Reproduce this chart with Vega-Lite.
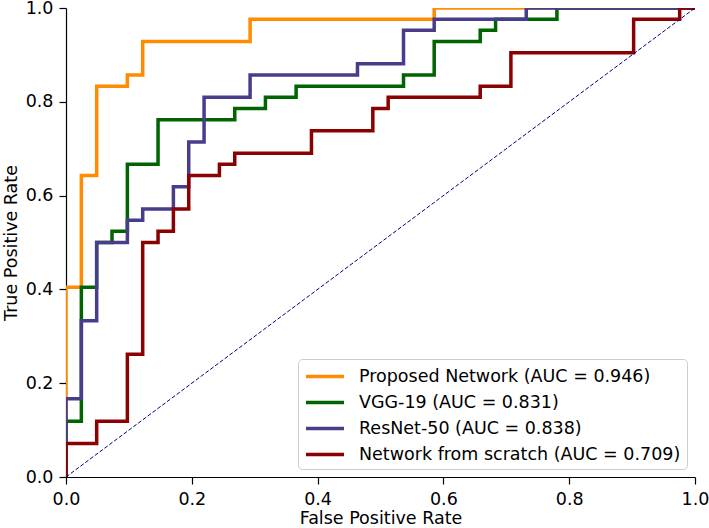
{
  "$schema": "https://vega.github.io/schema/vega-lite/v6.json",
  "autosize": {"type": "none"},
  "width": 629,
  "height": 469,
  "padding": {"left": 66, "top": 8, "right": 14, "bottom": 51},
  "background": "white",
  "datasets": {
    "roc": [
      {"model": "Proposed Network (AUC = 0.946)", "ord": 1, "fpr": 0, "tpr": 0},
      {"model": "Proposed Network (AUC = 0.946)", "ord": 2, "fpr": 0, "tpr": 0.40476},
      {"model": "Proposed Network (AUC = 0.946)", "ord": 3, "fpr": 0.02439, "tpr": 0.40476},
      {"model": "Proposed Network (AUC = 0.946)", "ord": 4, "fpr": 0.02439, "tpr": 0.64286},
      {"model": "Proposed Network (AUC = 0.946)", "ord": 5, "fpr": 0.04878, "tpr": 0.64286},
      {"model": "Proposed Network (AUC = 0.946)", "ord": 6, "fpr": 0.04878, "tpr": 0.83333},
      {"model": "Proposed Network (AUC = 0.946)", "ord": 7, "fpr": 0.09756, "tpr": 0.83333},
      {"model": "Proposed Network (AUC = 0.946)", "ord": 8, "fpr": 0.09756, "tpr": 0.85714},
      {"model": "Proposed Network (AUC = 0.946)", "ord": 9, "fpr": 0.12195, "tpr": 0.85714},
      {"model": "Proposed Network (AUC = 0.946)", "ord": 10, "fpr": 0.12195, "tpr": 0.92857},
      {"model": "Proposed Network (AUC = 0.946)", "ord": 11, "fpr": 0.29268, "tpr": 0.92857},
      {"model": "Proposed Network (AUC = 0.946)", "ord": 12, "fpr": 0.29268, "tpr": 0.97619},
      {"model": "Proposed Network (AUC = 0.946)", "ord": 13, "fpr": 0.58537, "tpr": 0.97619},
      {"model": "Proposed Network (AUC = 0.946)", "ord": 14, "fpr": 0.58537, "tpr": 1},
      {"model": "Proposed Network (AUC = 0.946)", "ord": 15, "fpr": 1, "tpr": 1},

      {"model": "VGG-19 (AUC = 0.831)", "ord": 1, "fpr": 0, "tpr": 0},
      {"model": "VGG-19 (AUC = 0.831)", "ord": 2, "fpr": 0, "tpr": 0.11905},
      {"model": "VGG-19 (AUC = 0.831)", "ord": 3, "fpr": 0.02439, "tpr": 0.11905},
      {"model": "VGG-19 (AUC = 0.831)", "ord": 4, "fpr": 0.02439, "tpr": 0.40476},
      {"model": "VGG-19 (AUC = 0.831)", "ord": 5, "fpr": 0.04878, "tpr": 0.40476},
      {"model": "VGG-19 (AUC = 0.831)", "ord": 6, "fpr": 0.04878, "tpr": 0.5},
      {"model": "VGG-19 (AUC = 0.831)", "ord": 7, "fpr": 0.07317, "tpr": 0.5},
      {"model": "VGG-19 (AUC = 0.831)", "ord": 8, "fpr": 0.07317, "tpr": 0.52381},
      {"model": "VGG-19 (AUC = 0.831)", "ord": 9, "fpr": 0.09756, "tpr": 0.52381},
      {"model": "VGG-19 (AUC = 0.831)", "ord": 10, "fpr": 0.09756, "tpr": 0.66667},
      {"model": "VGG-19 (AUC = 0.831)", "ord": 11, "fpr": 0.14634, "tpr": 0.66667},
      {"model": "VGG-19 (AUC = 0.831)", "ord": 12, "fpr": 0.14634, "tpr": 0.7619},
      {"model": "VGG-19 (AUC = 0.831)", "ord": 13, "fpr": 0.26829, "tpr": 0.7619},
      {"model": "VGG-19 (AUC = 0.831)", "ord": 14, "fpr": 0.26829, "tpr": 0.78571},
      {"model": "VGG-19 (AUC = 0.831)", "ord": 15, "fpr": 0.31707, "tpr": 0.78571},
      {"model": "VGG-19 (AUC = 0.831)", "ord": 16, "fpr": 0.31707, "tpr": 0.80952},
      {"model": "VGG-19 (AUC = 0.831)", "ord": 17, "fpr": 0.36585, "tpr": 0.80952},
      {"model": "VGG-19 (AUC = 0.831)", "ord": 18, "fpr": 0.36585, "tpr": 0.83333},
      {"model": "VGG-19 (AUC = 0.831)", "ord": 19, "fpr": 0.53659, "tpr": 0.83333},
      {"model": "VGG-19 (AUC = 0.831)", "ord": 20, "fpr": 0.53659, "tpr": 0.85714},
      {"model": "VGG-19 (AUC = 0.831)", "ord": 21, "fpr": 0.58537, "tpr": 0.85714},
      {"model": "VGG-19 (AUC = 0.831)", "ord": 22, "fpr": 0.58537, "tpr": 0.92857},
      {"model": "VGG-19 (AUC = 0.831)", "ord": 23, "fpr": 0.65854, "tpr": 0.92857},
      {"model": "VGG-19 (AUC = 0.831)", "ord": 24, "fpr": 0.65854, "tpr": 0.95238},
      {"model": "VGG-19 (AUC = 0.831)", "ord": 25, "fpr": 0.68293, "tpr": 0.95238},
      {"model": "VGG-19 (AUC = 0.831)", "ord": 26, "fpr": 0.68293, "tpr": 0.97619},
      {"model": "VGG-19 (AUC = 0.831)", "ord": 27, "fpr": 0.78049, "tpr": 0.97619},
      {"model": "VGG-19 (AUC = 0.831)", "ord": 28, "fpr": 0.78049, "tpr": 1},
      {"model": "VGG-19 (AUC = 0.831)", "ord": 29, "fpr": 1, "tpr": 1},

      {"model": "ResNet-50 (AUC = 0.838)", "ord": 1, "fpr": 0, "tpr": 0},
      {"model": "ResNet-50 (AUC = 0.838)", "ord": 2, "fpr": 0, "tpr": 0.16667},
      {"model": "ResNet-50 (AUC = 0.838)", "ord": 3, "fpr": 0.02439, "tpr": 0.16667},
      {"model": "ResNet-50 (AUC = 0.838)", "ord": 4, "fpr": 0.02439, "tpr": 0.33333},
      {"model": "ResNet-50 (AUC = 0.838)", "ord": 5, "fpr": 0.04878, "tpr": 0.33333},
      {"model": "ResNet-50 (AUC = 0.838)", "ord": 6, "fpr": 0.04878, "tpr": 0.5},
      {"model": "ResNet-50 (AUC = 0.838)", "ord": 7, "fpr": 0.09756, "tpr": 0.5},
      {"model": "ResNet-50 (AUC = 0.838)", "ord": 8, "fpr": 0.09756, "tpr": 0.54762},
      {"model": "ResNet-50 (AUC = 0.838)", "ord": 9, "fpr": 0.12195, "tpr": 0.54762},
      {"model": "ResNet-50 (AUC = 0.838)", "ord": 10, "fpr": 0.12195, "tpr": 0.57143},
      {"model": "ResNet-50 (AUC = 0.838)", "ord": 11, "fpr": 0.17073, "tpr": 0.57143},
      {"model": "ResNet-50 (AUC = 0.838)", "ord": 12, "fpr": 0.17073, "tpr": 0.61905},
      {"model": "ResNet-50 (AUC = 0.838)", "ord": 13, "fpr": 0.19512, "tpr": 0.61905},
      {"model": "ResNet-50 (AUC = 0.838)", "ord": 14, "fpr": 0.19512, "tpr": 0.71429},
      {"model": "ResNet-50 (AUC = 0.838)", "ord": 15, "fpr": 0.21951, "tpr": 0.71429},
      {"model": "ResNet-50 (AUC = 0.838)", "ord": 16, "fpr": 0.21951, "tpr": 0.80952},
      {"model": "ResNet-50 (AUC = 0.838)", "ord": 17, "fpr": 0.29268, "tpr": 0.80952},
      {"model": "ResNet-50 (AUC = 0.838)", "ord": 18, "fpr": 0.29268, "tpr": 0.85714},
      {"model": "ResNet-50 (AUC = 0.838)", "ord": 19, "fpr": 0.46341, "tpr": 0.85714},
      {"model": "ResNet-50 (AUC = 0.838)", "ord": 20, "fpr": 0.46341, "tpr": 0.88095},
      {"model": "ResNet-50 (AUC = 0.838)", "ord": 21, "fpr": 0.53659, "tpr": 0.88095},
      {"model": "ResNet-50 (AUC = 0.838)", "ord": 22, "fpr": 0.53659, "tpr": 0.95238},
      {"model": "ResNet-50 (AUC = 0.838)", "ord": 23, "fpr": 0.58537, "tpr": 0.95238},
      {"model": "ResNet-50 (AUC = 0.838)", "ord": 24, "fpr": 0.58537, "tpr": 0.97619},
      {"model": "ResNet-50 (AUC = 0.838)", "ord": 25, "fpr": 0.73171, "tpr": 0.97619},
      {"model": "ResNet-50 (AUC = 0.838)", "ord": 26, "fpr": 0.73171, "tpr": 1},
      {"model": "ResNet-50 (AUC = 0.838)", "ord": 27, "fpr": 1, "tpr": 1},

      {"model": "Network from scratch (AUC = 0.709)", "ord": 1, "fpr": 0, "tpr": 0},
      {"model": "Network from scratch (AUC = 0.709)", "ord": 2, "fpr": 0, "tpr": 0.07143},
      {"model": "Network from scratch (AUC = 0.709)", "ord": 3, "fpr": 0.04878, "tpr": 0.07143},
      {"model": "Network from scratch (AUC = 0.709)", "ord": 4, "fpr": 0.04878, "tpr": 0.11905},
      {"model": "Network from scratch (AUC = 0.709)", "ord": 5, "fpr": 0.09756, "tpr": 0.11905},
      {"model": "Network from scratch (AUC = 0.709)", "ord": 6, "fpr": 0.09756, "tpr": 0.2619},
      {"model": "Network from scratch (AUC = 0.709)", "ord": 7, "fpr": 0.12195, "tpr": 0.2619},
      {"model": "Network from scratch (AUC = 0.709)", "ord": 8, "fpr": 0.12195, "tpr": 0.5},
      {"model": "Network from scratch (AUC = 0.709)", "ord": 9, "fpr": 0.14634, "tpr": 0.5},
      {"model": "Network from scratch (AUC = 0.709)", "ord": 10, "fpr": 0.14634, "tpr": 0.52381},
      {"model": "Network from scratch (AUC = 0.709)", "ord": 11, "fpr": 0.17073, "tpr": 0.52381},
      {"model": "Network from scratch (AUC = 0.709)", "ord": 12, "fpr": 0.17073, "tpr": 0.57143},
      {"model": "Network from scratch (AUC = 0.709)", "ord": 13, "fpr": 0.19512, "tpr": 0.57143},
      {"model": "Network from scratch (AUC = 0.709)", "ord": 14, "fpr": 0.19512, "tpr": 0.64286},
      {"model": "Network from scratch (AUC = 0.709)", "ord": 15, "fpr": 0.2439, "tpr": 0.64286},
      {"model": "Network from scratch (AUC = 0.709)", "ord": 16, "fpr": 0.2439, "tpr": 0.66667},
      {"model": "Network from scratch (AUC = 0.709)", "ord": 17, "fpr": 0.26829, "tpr": 0.66667},
      {"model": "Network from scratch (AUC = 0.709)", "ord": 18, "fpr": 0.26829, "tpr": 0.69048},
      {"model": "Network from scratch (AUC = 0.709)", "ord": 19, "fpr": 0.39024, "tpr": 0.69048},
      {"model": "Network from scratch (AUC = 0.709)", "ord": 20, "fpr": 0.39024, "tpr": 0.7381},
      {"model": "Network from scratch (AUC = 0.709)", "ord": 21, "fpr": 0.4878, "tpr": 0.7381},
      {"model": "Network from scratch (AUC = 0.709)", "ord": 22, "fpr": 0.4878, "tpr": 0.78571},
      {"model": "Network from scratch (AUC = 0.709)", "ord": 23, "fpr": 0.5122, "tpr": 0.78571},
      {"model": "Network from scratch (AUC = 0.709)", "ord": 24, "fpr": 0.5122, "tpr": 0.80952},
      {"model": "Network from scratch (AUC = 0.709)", "ord": 25, "fpr": 0.65854, "tpr": 0.80952},
      {"model": "Network from scratch (AUC = 0.709)", "ord": 26, "fpr": 0.65854, "tpr": 0.83333},
      {"model": "Network from scratch (AUC = 0.709)", "ord": 27, "fpr": 0.70732, "tpr": 0.83333},
      {"model": "Network from scratch (AUC = 0.709)", "ord": 28, "fpr": 0.70732, "tpr": 0.90476},
      {"model": "Network from scratch (AUC = 0.709)", "ord": 29, "fpr": 0.90244, "tpr": 0.90476},
      {"model": "Network from scratch (AUC = 0.709)", "ord": 30, "fpr": 0.90244, "tpr": 0.97619},
      {"model": "Network from scratch (AUC = 0.709)", "ord": 31, "fpr": 0.97561, "tpr": 0.97619},
      {"model": "Network from scratch (AUC = 0.709)", "ord": 32, "fpr": 0.97561, "tpr": 1},
      {"model": "Network from scratch (AUC = 0.709)", "ord": 33, "fpr": 1, "tpr": 1}
    ],
    "diag": [
      {"fpr": 0, "tpr": 0},
      {"fpr": 1, "tpr": 1}
    ]
  },
  "config": {
    "view": {"stroke": null},
    "font": "DejaVu Sans",
    "axis": {
      "grid": false,
      "domainColor": "black",
      "domainWidth": 1.2,
      "tickColor": "black",
      "tickWidth": 1.2,
      "tickSize": 7,
      "labelFont": "DejaVu Sans",
      "labelFontSize": 17.5,
      "labelColor": "black",
      "labelPadding": 6,
      "titleFont": "DejaVu Sans",
      "titleFontSize": 17.5,
      "titleFontWeight": "normal",
      "titleColor": "black"
    },
    "legend": {
      "orient": "bottom-right",
      "offset": 8.5,
      "padding": 6,
      "fillColor": "rgba(255,255,255,0.8)",
      "strokeColor": "#cccccc",
      "cornerRadius": 4,
      "symbolType": "M-1,0H3",
      "symbolStrokeWidth": 3.5,
      "symbolSize": 361,
      "labelFont": "DejaVu Sans",
      "labelFontSize": 17.5,
      "labelColor": "black",
      "labelLimit": 0,
      "labelOffset": 32,
      "rowPadding": 6
    }
  },
  "layer": [
    {
      "data": {"name": "roc"},
      "mark": {"type": "line", "strokeWidth": 3.5, "clip": true},
      "encoding": {
        "x": {
          "field": "fpr", "type": "quantitative",
          "scale": {"domain": [0, 1], "nice": false, "zero": false},
          "axis": {"title": "False Positive Rate", "values": [0, 0.2, 0.4, 0.6, 0.8, 1], "format": ".1f", "labelFlush": false, "titlePadding": 2}
        },
        "y": {
          "field": "tpr", "type": "quantitative",
          "scale": {"domain": [0, 1], "nice": false, "zero": false},
          "axis": {"title": "True Positive Rate", "values": [0, 0.2, 0.4, 0.6, 0.8, 1], "format": ".1f", "labelFlush": false, "titlePadding": 5}
        },
        "order": {"field": "ord", "type": "quantitative"},
        "color": {
          "field": "model", "type": "nominal",
          "scale": {
            "domain": ["Proposed Network (AUC = 0.946)", "VGG-19 (AUC = 0.831)", "ResNet-50 (AUC = 0.838)", "Network from scratch (AUC = 0.709)"],
            "range": ["#ff8c00", "#006400", "#483d8b", "#8b0000"]
          },
          "legend": {"title": null}
        }
      }
    },
    {
      "data": {"name": "diag"},
      "mark": {"type": "line", "color": "#000080", "strokeWidth": 1, "strokeDash": [4, 2], "clip": true},
      "encoding": {
        "x": {"field": "fpr", "type": "quantitative"},
        "y": {"field": "tpr", "type": "quantitative"}
      }
    }
  ]
}
